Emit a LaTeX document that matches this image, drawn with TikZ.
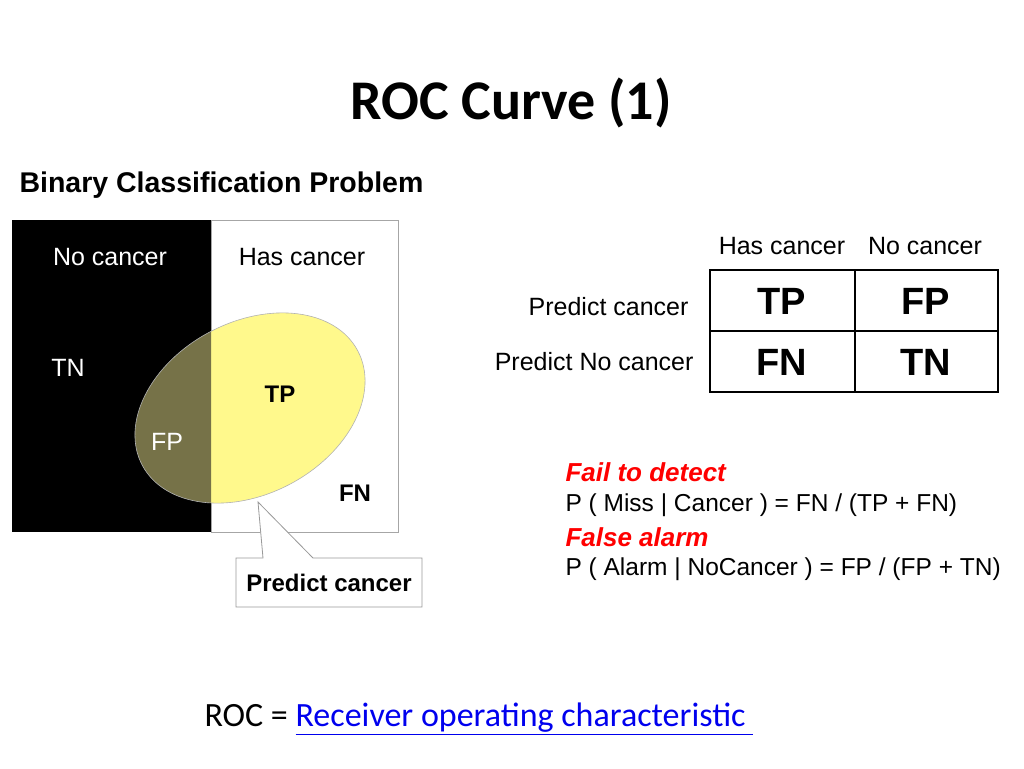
\documentclass[tikz,border=0pt]{standalone}
\usepackage{fontspec}
\setmainfont{Carlito}
\newfontfamily\arial{Liberation Sans}
\begin{document}
\begin{tikzpicture}[x=1pt,y=-1pt,
  lbl/.style={font=\arial\fontsize{25}{28}\selectfont},
  cell/.style={font=\arial\bfseries\fontsize{38}{42}\selectfont},
  frm/.style={font=\arial\fontsize{24.5}{28}\selectfont, anchor=west}]
\useasboundingbox (0,0) rectangle (1024,768);
\node (title) at (511,103) {\fontsize{56}{62}\selectfont\bfseries ROC Curve (1)};
\node[anchor=west] (bcp) at (16,185) {\arial\bfseries\fontsize{28.5}{32}\selectfont Binary Classification Problem};
% venn
\fill[black] (12,220) rectangle (211,532);
\draw[gray!70, line width=1pt] (211,220) rectangle (398,532);
\begin{scope}
  \clip (211,200) rectangle (420,560);
  \fill[yellow!45] (250,408) ellipse[x radius=122, y radius=86, rotate=28];
\end{scope}
\begin{scope}
  \clip (100,200) rectangle (211,560);
  \fill[black!45!yellow!70!black] (250,408) ellipse[x radius=122, y radius=86, rotate=28];
\end{scope}
\draw[gray!60, line width=0.6pt] (250,408) ellipse[x radius=122, y radius=86, rotate=28];
\node[lbl, white] (nc) at (110,257) {No cancer};
\node[lbl] (hc) at (302,257) {Has cancer};
\node[lbl, white] (tn) at (68,368) {TN};
\node[lbl, white] (fp) at (167,442) {FP};
\node[lbl, font=\arial\bfseries\fontsize{24}{28}\selectfont] (tp) at (280,394) {TP};
\node[lbl, font=\arial\bfseries\fontsize{24}{28}\selectfont] (fn) at (355,493) {FN};
% callout
\coordinate (tip) at (258,502);
\draw[gray!80, line width=0.8pt, fill=white] (236,558) -- (263,558) -- (tip) -- (313,558) -- (422,558) -- (422,607) -- (236,607) -- cycle;
\node[font=\arial\bfseries\fontsize{24}{28}\selectfont] (pc) at (329,583) {Predict cancer};
% table
\draw[line width=1.5pt] (710,270) rectangle (998,392);
\draw[line width=1.5pt] (855,270) -- (855,392) (710,331) -- (998,331);
\node[cell] (c1) at (782,301) {TP};
\node[cell] (c2) at (926,301) {FP};
\node[cell] (c3) at (782,362) {FN};
\node[cell] (c4) at (926,362) {TN};
\node[lbl] (h1) at (782,246) {Has cancer};
\node[lbl] (h2) at (925,246) {No cancer};
\node[lbl, anchor=east] (r1) at (692,307) {Predict cancer};
\node[lbl, anchor=east] (r2) at (697,362) {Predict No cancer};
% formulas
\node[frm, red, font=\arial\bfseries\itshape\fontsize{26}{30}\selectfont] (f1) at (562,472) {Fail to detect};
\node[frm] (f2) at (562,505) {P ( Miss | Cancer ) = FN / (TP + FN)};
\node[frm, red, font=\arial\bfseries\itshape\fontsize{26}{30}\selectfont] (f3) at (562,537) {False alarm};
\node[frm] (f4) at (562,569) {P ( Alarm | NoCancer ) = FP / (FP + TN)};
% bottom
\node[anchor=west, font=\fontsize{34}{38}\selectfont] (roc) at (201,719) {ROC = \textcolor[RGB]{0,0,238}{\underline{Receiver operating characteristic\ }}};
\end{tikzpicture}
\end{document}
